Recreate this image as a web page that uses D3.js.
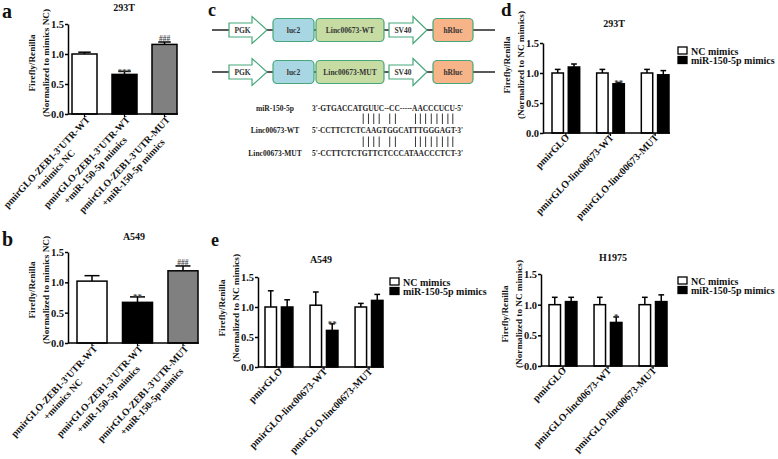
<!DOCTYPE html>
<html><head><meta charset="utf-8">
<script src="https://cdn.jsdelivr.net/npm/d3@7"></script>
<style>
body{margin:0;background:#fff}
svg{display:block}
text{font-family:"Liberation Serif","Times New Roman",serif;font-weight:bold;fill:#111}
</style>
</head><body>
<svg id="fig" width="778" height="459"></svg>
<script>
// ---------------- DATA ----------------
const yTicks = [0, 0.5, 1.0, 1.5];
const yLabel1 = "Firefly/Renilla";
const abYLabel2 = "(Normalized to mimics NC)";
const groupYLabel2 = "(Normalized to NC mimics)";

const abCategories = [
  ["pmirGLO-ZEB1-3'UTR-WT", "+mimics NC"],
  ["pmirGLO-ZEB1-3'UTR-WT", "+miR-150-5p mimics"],
  ["pmirGLO-ZEB1-3'UTR-MUT", "+miR-150-5p mimics"]
];
const abColors = ["#ffffff", "#000000", "#808080"];
const aMeans = [1.00, 0.66, 1.16], aErrors = [0.03, 0.05, 0.04], aMarks = ["", "***", "###"];
const bMeans = [1.02, 0.67, 1.19], bErrors = [0.09, 0.09, 0.08], bMarks = ["", "**", "###"];

const groupCategories = ["pmirGLO", "pmirGLO-linc00673-WT", "pmirGLO-linc00673-MUT"];
const seriesNames = ["NC mimics", "miR-150-5p mimics"];
const seriesColors = ["#ffffff", "#000000"];
const dNC = [1.00, 1.00, 1.00], dNCErr = [0.06, 0.06, 0.06];
const dMiR = [1.10, 0.82, 0.97], dMiRErr = [0.05, 0.02, 0.07], dMarks = ["", "**", ""];
const eNC = [1.00, 1.03, 1.00], eNCErr = [0.27, 0.22, 0.06];
const eMiR = [1.00, 0.61, 1.11], eMiRErr = [0.12, 0.11, 0.10], eMarks = ["", "**", ""];
const hNC = [1.00, 1.00, 1.00], hNCErr = [0.12, 0.12, 0.12];
const hMiR = [1.05, 0.71, 1.05], hMiRErr = [0.07, 0.09, 0.11], hMarks = ["", "*", ""];

// panel c
const constructRows = [
  ["PGK", "luc2", "Linc00673-WT", "SV40", "hRluc"],
  ["PGK", "luc2", "Linc00673-MUT", "SV40", "hRluc"]
];
const seqNames = ["miR-150-5p", "Linc00673-WT", "Linc00673-MUT"];
const seqs = ["3'-GTGACCATGUUC--CC-----AACCCUCU-5'",
              "5'-CCTTCTCTCAAGTGGCATTTGGGAGT-3'",
              "5'-CCTTCTCTGTTCTCCCATAACCCTCT-3'"];
const pairIdx = [11, 12, 13, 14, 16, 17, 21, 22, 23, 24, 25, 26, 27, 28];

// ---------------- DRAW ----------------
const svg = d3.select("#fig");
svg.append("rect").attr("width", 778).attr("height", 459).attr("fill", "#fff");

function label(txt, x, y, size, anchor) {
  return svg.append("text").attr("x", x).attr("y", y).attr("text-anchor", anchor || "start")
    .style("font-size", size + "px").text(txt);
}

function drawYAxis(g, y, x0) {
  const ax = g.append("g").attr("transform", `translate(${x0},0)`)
    .call(d3.axisLeft(y).tickValues(yTicks).tickFormat(d3.format(".1f")).tickSize(3).tickSizeOuter(0));
  ax.select(".domain").attr("stroke", "#000").attr("stroke-width", 1.5);
  ax.selectAll(".tick line").attr("stroke", "#000").attr("stroke-width", 1.5);
  ax.selectAll(".tick text").style("font-size", "10.5px").attr("x", -4);
}

function yTitle(g, axisX, cy, l2) {
  [yLabel1, l2].forEach((t, i) => {
    g.append("text").attr("transform", `translate(${axisX - 33 + i * 14},${cy}) rotate(-90)`)
      .attr("text-anchor", "middle").style("font-size", "9.2px").text(t);
  });
}

function rotLabel(g, tx, ty, lines, fs, ang) {
  const gg = g.append("g").attr("transform", `translate(${tx},${ty}) rotate(${-ang})`);
  const t1 = gg.append("text").attr("text-anchor", "end").style("font-size", fs + "px").text(lines[0]);
  if (lines.length > 1) {
    const w = t1.node().getComputedTextLength();
    gg.append("text").attr("text-anchor", "middle").attr("x", -w / 2).attr("y", fs * 1.2)
      .style("font-size", fs + "px").text(lines[1]);
  }
}

function errBar(g, cx, yTop, yCap, bw) {
  g.append("line").attr("x1", cx).attr("x2", cx).attr("y1", yTop).attr("y2", yCap)
    .attr("stroke", "#000").attr("stroke-width", 1.5);
  g.append("line").attr("x1", cx - bw / 4).attr("x2", cx + bw / 4).attr("y1", yCap).attr("y2", yCap)
    .attr("stroke", "#000").attr("stroke-width", 1.5);
}

function mark(g, txt, cx, yCap) {
  if (!txt) return;
  const star = txt[0] === "*";
  g.append("text").attr("x", cx).attr("y", star ? yCap + 3.5 : yCap - 1)
    .attr("text-anchor", "middle").style("font-size", star ? "9px" : "7.5px")
    .style("fill", "#444").text(txt);
}

function singlePanel(c) {
  const g = svg.append("g");
  const y = d3.scaleLinear().domain([0, 1.5]).range([c.y0, c.y15]);
  const x = d3.scaleBand().domain(d3.range(c.means.length)).range([c.barStart, c.barEnd])
    .paddingInner(c.pad).paddingOuter(0);
  const bw = x.bandwidth();
  c.means.forEach((m, i) => {
    g.append("rect").attr("x", x(i)).attr("y", y(m)).attr("width", bw).attr("height", y(0) - y(m))
      .attr("fill", abColors[i]).attr("stroke", "#000").attr("stroke-width", 1.5);
    errBar(g, x(i) + bw / 2, y(m), y(m + c.errs[i]), bw);
    mark(g, c.marks[i], x(i) + bw / 2, y(m + c.errs[i]));
  });
  drawYAxis(g, y, c.axisX);
  g.append("line").attr("x1", c.axisX).attr("x2", c.barEnd + 1).attr("y1", y(0)).attr("y2", y(0))
    .attr("stroke", "#000").attr("stroke-width", 1.5);
  const xa = g.append("g").attr("transform", `translate(0,${y(0)})`)
    .call(d3.axisBottom(x).tickSize(3).tickSizeOuter(0).tickFormat(""));
  xa.select(".domain").remove();
  xa.selectAll(".tick line").attr("stroke", "#000").attr("stroke-width", 1.2);
  c.cats.forEach((lines, i) => rotLabel(g, x(i) + bw / 2 + 6, y(0) + 6, lines, 9.8, 47));
  g.append("text").attr("x", c.titleX).attr("y", c.titleY).attr("text-anchor", "middle")
    .style("font-size", "10px").text(c.title);
  yTitle(g, c.axisX, c.ylY, abYLabel2);
}

function groupPanel(c) {
  const g = svg.append("g");
  const y = d3.scaleLinear().domain([0, 1.5]).range([c.y0, c.y15]);
  const x = d3.scaleBand().domain(groupCategories).range([c.barStart, c.barEnd]).paddingInner(0.38).paddingOuter(0);
  const xs = d3.scaleBand().domain(seriesNames).range([0, x.bandwidth()]).paddingInner(0.3).paddingOuter(0);
  const bw = xs.bandwidth();
  const series = [[c.nc, c.ncErr], [c.mir, c.mirErr]];
  groupCategories.forEach((cat, i) => {
    series.forEach(([vals, errs], s) => {
      const bx = x(cat) + xs(seriesNames[s]);
      const v = vals[i];
      g.append("rect").attr("x", bx).attr("y", y(v)).attr("width", bw).attr("height", y(0) - y(v))
        .attr("fill", seriesColors[s]).attr("stroke", "#000").attr("stroke-width", 1.5);
      errBar(g, bx + bw / 2, y(v), y(v + errs[i]), bw);
      if (s === 1) mark(g, c.marks[i], bx + bw / 2, y(v + errs[i]));
    });
  });
  drawYAxis(g, y, c.axisX);
  g.append("line").attr("x1", c.axisX).attr("x2", c.barEnd + 1).attr("y1", y(0)).attr("y2", y(0))
    .attr("stroke", "#000").attr("stroke-width", 1.5);
  const xa = g.append("g").attr("transform", `translate(0,${y(0)})`)
    .call(d3.axisBottom(x).tickSize(3).tickSizeOuter(0).tickFormat(""));
  xa.select(".domain").remove();
  xa.selectAll(".tick line").attr("stroke", "#000").attr("stroke-width", 1.2);
  groupCategories.forEach(cat => rotLabel(g, x(cat) + x.bandwidth() / 2 + 4, y(0) + 5, [cat], 10, 46));
  g.append("text").attr("x", c.titleX).attr("y", c.titleY).attr("text-anchor", "middle")
    .style("font-size", "10px").text(c.title);
  yTitle(g, c.axisX, c.ylY, groupYLabel2);
  // legend
  seriesNames.forEach((n, s) => {
    g.append("rect").attr("x", c.legX).attr("y", c.legY + s * 9.5).attr("width", 9).attr("height", 7)
      .attr("fill", seriesColors[s]).attr("stroke", "#000").attr("stroke-width", 1.3);
    g.append("text").attr("x", c.legX + 13).attr("y", c.legY + s * 9.5 + 7.5).style("font-size", "10px").text(n);
  });
}

// panel letters
label("a", 2, 18, 20);
label("b", 2, 246, 20);
label("c", 208, 16, 18);
label("d", 501, 16, 19);
label("e", 211, 246, 18);

singlePanel({cats: abCategories, means: aMeans, errs: aErrors, marks: aMarks, title: "293T",
  axisX: 68, y0: 114, y15: 24, barStart: 72, barEnd: 177, pad: 0.375, titleX: 124, titleY: 11, ylY: 63});
singlePanel({cats: abCategories, means: bMeans, errs: bErrors, marks: bMarks, title: "A549",
  axisX: 68, y0: 343, y15: 252, barStart: 77, barEnd: 198, pad: 0.34, titleX: 134, titleY: 240, ylY: 290});

groupPanel({nc: dNC, ncErr: dNCErr, mir: dMiR, mirErr: dMiRErr, marks: dMarks, title: "293T",
  axisX: 543, y0: 133, y15: 43, barStart: 552, barEnd: 669, titleX: 614, titleY: 27, ylY: 65, legX: 678, legY: 47});
groupPanel({nc: eNC, ncErr: eNCErr, mir: eMiR, mirErr: eMiRErr, marks: eMarks, title: "A549",
  axisX: 258, y0: 367, y15: 277, barStart: 265, barEnd: 383, titleX: 321, titleY: 263, ylY: 308, legX: 390, legY: 278});
groupPanel({nc: hNC, ncErr: hNCErr, mir: hMiR, mirErr: hMiRErr, marks: hMarks, title: "H1975",
  axisX: 541, y0: 366, y15: 274, barStart: 549, barEnd: 667, titleX: 613, titleY: 261, ylY: 314, legX: 678, legY: 277});

// ---------- panel c: constructs ----------
const green = "#46a77b";
const partFill = [null, "#a8d6e2", "#c6dca3", null, "#f6b488"];
const partLayout = [[229, 267, 252], [273, 314], [316, 384], [389, 427, 413], [433, 473]];
const rowY = [30, 72];
constructRows.forEach((parts, r) => {
  const cy = rowY[r];
  svg.append("line").attr("x1", 212).attr("x2", 495).attr("y1", cy).attr("y2", cy)
    .attr("stroke", "#222").attr("stroke-width", 1.6);
  parts.forEach((p, i) => {
    const L = partLayout[i];
    let tx;
    if (L.length === 3) {
      const [x1, x2, xh] = L, bh = 7, hh = 13.5;
      svg.append("polygon").attr("points",
        [[x1, cy - bh], [xh, cy - bh], [xh, cy - hh], [x2, cy], [xh, cy + hh], [xh, cy + bh], [x1, cy + bh]].map(d => d.join(",")).join(" "))
        .attr("fill", "#fff").attr("stroke", green).attr("stroke-width", 1.2);
      tx = (x1 + xh) / 2 + 2;
    } else {
      const [x1, x2] = L;
      svg.append("rect").attr("x", x1).attr("y", cy - 11.5).attr("width", x2 - x1).attr("height", 23)
        .attr("rx", 4).attr("fill", partFill[i]).attr("stroke", green).attr("stroke-width", 1.2);
      tx = (x1 + x2) / 2;
    }
    svg.append("text").attr("x", tx).attr("y", cy + 2.5).attr("text-anchor", "middle")
      .style("font-size", "7.5px").style("fill", "#333").text(p);
  });
});

// sequences
const seqY = [111, 133, 156];
const seqNodes = seqs.map((s, i) => {
  label(seqNames[i], 275, seqY[i], 7.5, "middle").style("fill", "#222");
  return svg.append("text").attr("x", 312).attr("y", seqY[i]).attr("textLength", 151)
    .attr("lengthAdjust", "spacingAndGlyphs").style("font-size", "8.2px").style("fill", "#222").text(s).node();
});
const wtNode = seqNodes[1];
pairIdx.forEach(ci => {
  const ext = wtNode.getExtentOfChar(ci);
  const cx = ext.x + ext.width / 2;
  [[113.5, 124], [136.5, 147]].forEach(([a, b]) => {
    svg.append("line").attr("x1", cx).attr("x2", cx).attr("y1", a).attr("y2", b)
      .attr("stroke", "#222").attr("stroke-width", 0.9);
  });
});
</script>
</body></html>
